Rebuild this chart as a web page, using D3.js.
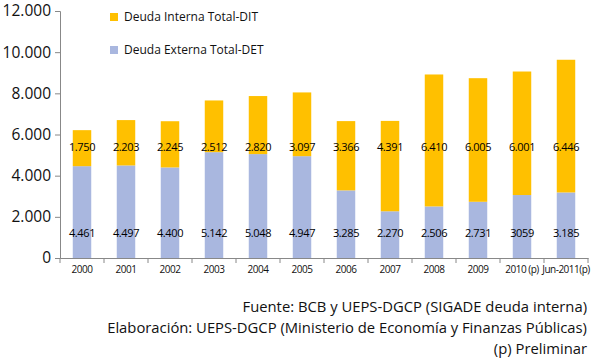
<!DOCTYPE html>
<html>
<head>
<meta charset="utf-8">
<script src="https://cdn.jsdelivr.net/npm/d3@7"></script>
<style>
  body { margin: 0; background: #fff; }
  text { font-family: "Open Sans", "Noto Sans", sans-serif; }
</style>
</head>
<body>
<script>
// categories and series (millones de USD)
const years = ['2000', '2001', '2002', '2003', '2004', '2005', '2006', '2007', '2008', '2009', '2010 (p)', 'Jun-2011(p)'];
const det = [4461, 4497, 4400, 5142, 5048, 4947, 3285, 2270, 2506, 2731, 3059, 3185];
const dit = [1750, 2203, 2245, 2512, 2820, 3097, 3366, 4391, 6410, 6005, 6001, 6446];
const detLabels = ['4.461', '4.497', '4.400', '5.142', '5.048', '4.947', '3.285', '2.270', '2.506', '2.731', '3059', '3.185'];
const ditLabels = ['1.750', '2.203', '2.245', '2.512', '2.820', '3.097', '3.366', '4.391', '6.410', '6.005', '6.001', '6.446'];
const yTicks = [0, 2000, 4000, 6000, 8000, 10000, 12000];
const sourceLines = [
  'Fuente: BCB y UEPS-DGCP (SIGADE deuda interna)',
  'Elaboración: UEPS-DGCP (Ministerio de Economía y Finanzas Públicas)',
  '(p) Preliminar'
];

const width = 593, height = 361;
const margin = { top: 11, right: 5, bottom: 103, left: 60 };
const colDet = '#a9b7df', colDit = '#ffc000';

const svg = d3.select('body').append('svg')
    .attr('width', width)
    .attr('height', height);

const x = d3.scaleBand().domain(years).range([margin.left, width - margin.right]).paddingInner(0.58).paddingOuter(0.29);
const y = d3.scaleLinear().domain([0, 12000]).range([height - margin.bottom, margin.top]);

const rows = years.map((c, i) => ({ c, det: det[i], dit: dit[i], dl: detLabels[i], il: ditLabels[i] }));

// bars
svg.append('g').selectAll('rect').data(rows).join('rect')
    .attr('x', d => x(d.c)).attr('width', x.bandwidth())
    .attr('y', d => y(d.det)).attr('height', d => y(0) - y(d.det))
    .attr('fill', colDet);
svg.append('g').selectAll('rect').data(rows).join('rect')
    .attr('x', d => x(d.c)).attr('width', x.bandwidth())
    .attr('y', d => y(d.det + d.dit)).attr('height', d => y(d.det) - y(d.det + d.dit))
    .attr('fill', colDit);

// value labels (fixed rows like the original)
const lab = svg.append('g').attr('font-size', 11).attr('fill', '#000').attr('text-anchor', 'middle');
lab.selectAll('.dl').data(rows).join('text').attr('class', 'dl')
    .attr('x', d => x(d.c) + x.bandwidth() / 2).attr('y', 237)
    .attr('letter-spacing', -0.4)
    .text(d => d.dl);
lab.selectAll('.il').data(rows).join('text').attr('class', 'il')
    .attr('x', d => x(d.c) + x.bandwidth() / 2).attr('y', 151)
    .attr('letter-spacing', -0.4)
    .text(d => d.il);

// y axis
const yAxis = svg.append('g')
    .attr('transform', `translate(${margin.left},0)`)
    .call(d3.axisLeft(y).tickValues(yTicks).tickSize(5).tickPadding(4).tickFormat(d => d3.format(',')(d).replace(/,/g, '.')));
yAxis.selectAll('text').attr('font-size', 15.5).attr('fill', '#111');

// x axis with ticks between categories
const xAxis = svg.append('g')
    .attr('transform', `translate(0,${y(0)})`)
    .call(d3.axisBottom(x).tickSize(0).tickPadding(8));
xAxis.selectAll('text').attr('font-size', 10).attr('fill', '#111').attr('letter-spacing', -0.5);
const step = x.step();
xAxis.selectAll('.sep').data(d3.range(years.length + 1)).join('line').attr('class', 'sep')
    .attr('x1', i => margin.left + i * step).attr('x2', i => margin.left + i * step)
    .attr('y1', 0).attr('y2', 5);
svg.selectAll('.domain, .tick line, .sep').attr('stroke', '#888');

// legend
const legend = svg.append('g').attr('font-size', 12);
[['Deuda Interna Total-DIT', colDit, 20], ['Deuda Externa Total-DET', colDet, 53]].forEach(([t, c, yy]) => {
  legend.append('rect').attr('x', 110).attr('y', yy - 7).attr('width', 8).attr('height', 8).attr('fill', c);
  legend.append('text').attr('x', 124).attr('y', yy + 1).attr('fill', '#111').text(t);
});

// source notes
svg.append('g').attr('font-size', 14.8).attr('text-anchor', 'end').attr('fill', '#111')
  .selectAll('text').data(sourceLines).join('text')
    .attr('x', 587).attr('y', (d, i) => 312 + i * 21)
    .text(d => d);
</script>
</body>
</html>
